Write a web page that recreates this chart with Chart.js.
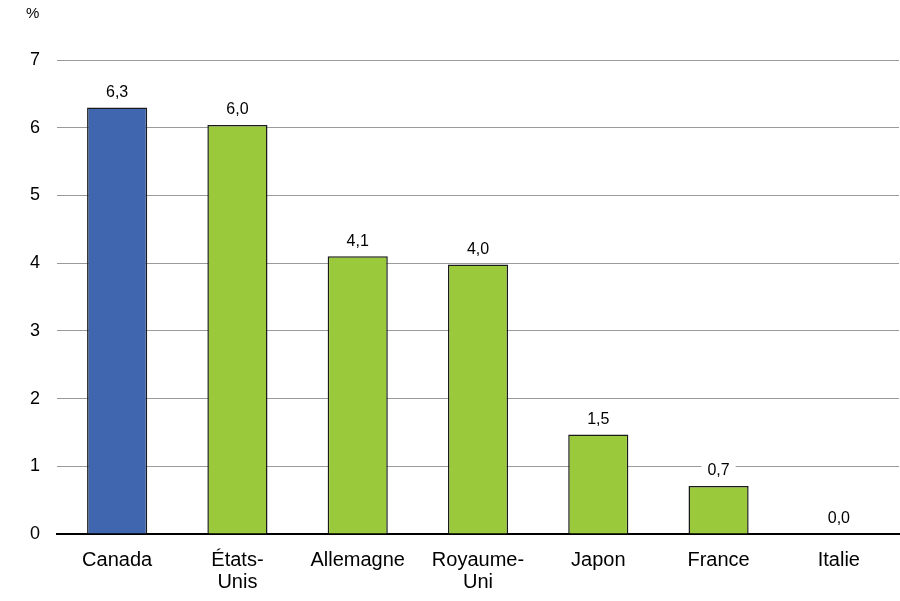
<!DOCTYPE html>
<html>
<head>
<meta charset="utf-8">
<script src="https://cdn.jsdelivr.net/npm/chart.js@4.4.0/dist/chart.umd.min.js"></script>
<style>
html,body{margin:0;padding:0;background:#fff;}
#wrap{position:relative;width:900px;height:601px;}
#unit{position:absolute;left:26px;top:4px;font:15px "Liberation Sans",Arial,sans-serif;color:#000;}
</style>
</head>
<body>
<div id="wrap"><canvas id="c" width="900" height="601"></canvas><div id="unit">%</div></div>
<script>
const categories = ['Canada', ['États-', 'Unis'], 'Allemagne', ['Royaume-', 'Uni'], 'Japon', 'France', 'Italie'];
const values = [6.3, 6.04, 4.1, 3.98, 1.47, 0.71, 0.0];
const barColors = ['#4166B0', '#9ACA3C', '#9ACA3C', '#9ACA3C', '#9ACA3C', '#9ACA3C', '#9ACA3C'];
const yTicks = [0, 1, 2, 3, 4, 5, 6, 7];

const FONT = '"Liberation Sans", Arial, sans-serif';

const labelPlugin = {
  id: 'barLabels',
  afterDatasetsDraw(chart) {
    const ctx = chart.ctx;
    const meta = chart.getDatasetMeta(0);
    ctx.save();
    ctx.font = '16px ' + FONT;
    ctx.textAlign = 'center';
    ctx.textBaseline = 'middle';
    meta.data.forEach((bar, i) => {
      const txt = values[i].toFixed(1).replace('.', ',');
      const w = ctx.measureText(txt).width;
      const cy = bar.y - 15;
      ctx.fillStyle = '#fff';
      ctx.fillRect(bar.x - w / 2 - 6, cy - 9, w + 12, 18);
      ctx.fillStyle = '#000';
      ctx.fillText(txt, bar.x, cy);
    });
    ctx.restore();
  }
};

new Chart(document.getElementById('c'), {
  type: 'bar',
  data: {
    labels: categories,
    datasets: [{
      data: values,
      backgroundColor: barColors,
      borderColor: '#1a1a1a',
      borderWidth: 1.5,
      borderSkipped: 'bottom',
      barPercentage: 0.5,
      categoryPercentage: 1.0
    }]
  },
  options: {
    responsive: false,
    animation: false,
    devicePixelRatio: 1,
    layout: { padding: { top: 60, right: 1, left: 0, bottom: 0 } },
    plugins: { legend: { display: false }, tooltip: { enabled: false } },
    scales: {
      x: {
        grid: { display: false },
        border: { display: true, color: '#000', width: 2 },
        ticks: { color: '#000', font: { family: FONT, size: 20, lineHeight: 1.1 }, padding: 7, maxRotation: 0, autoSkip: false },
        afterFit(scale) { scale.height = 67; }
      },
      y: {
        min: 0, max: 7,
        afterBuildTicks(scale) { scale.ticks = yTicks.map(v => ({ value: v })); },
        grid: { color: '#9a9a9a', lineWidth: 1, drawTicks: false },
        border: { display: false },
        ticks: { color: '#000', font: { family: FONT, size: 18 }, padding: 17 },
        afterFit(scale) { scale.width = 57; }
      }
    }
  },
  plugins: [labelPlugin]
});
</script>
</body>
</html>
